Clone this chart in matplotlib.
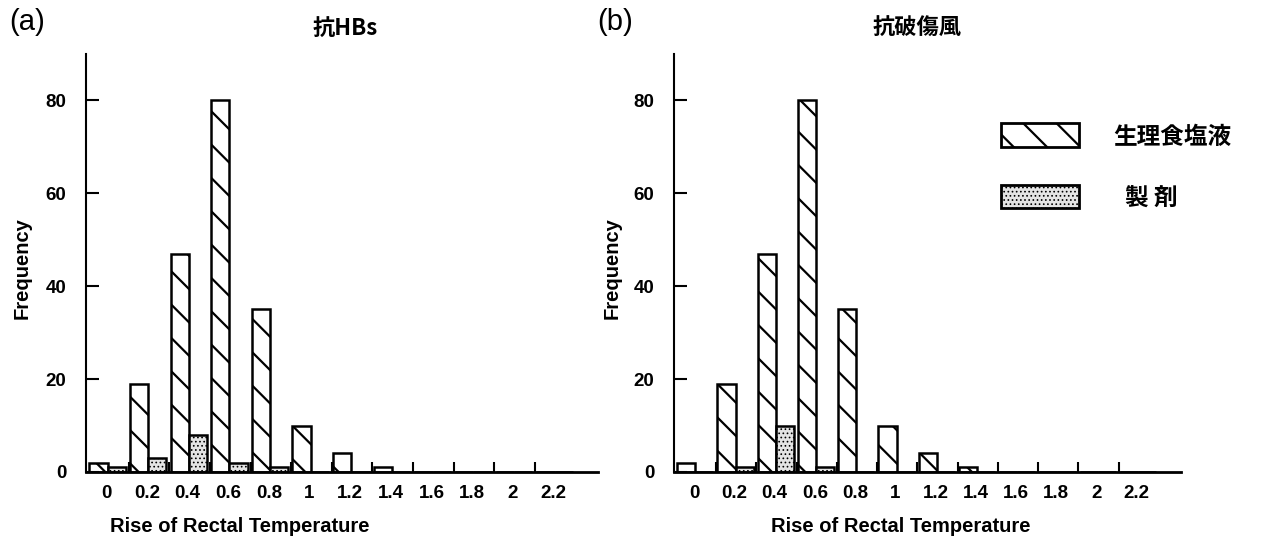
import matplotlib
matplotlib.use("Agg")
import matplotlib.pyplot as plt
from matplotlib.patches import Rectangle

plt.rcParams['font.family'] = ['Liberation Sans', 'Noto Sans CJK JP']
plt.rcParams['hatch.linewidth'] = 1.6

# data
bins = ['0', '0.2', '0.4', '0.6', '0.8', '1', '1.2', '1.4', '1.6', '1.8', '2', '2.2']
saline_a = [2, 19, 47, 80, 35, 10, 4, 1, 0, 0, 0, 0]
prep_a = [1, 3, 8, 2, 1, 0, 0, 0, 0, 0, 0, 0]
saline_b = [2, 19, 47, 80, 35, 10, 4, 1, 0, 0, 0, 0]
prep_b = [0, 1, 10, 1, 0, 0, 0, 0, 0, 0, 0, 0]
titles = ['抗HBs', '抗破傷風']
panels = ['(a)', '(b)']
legend_labels = ['生理食塩液', '製 剤']

W, H = 1262, 556
fig = plt.figure(figsize=(W / 100, H / 100), dpi=100)

cjk = ['Noto Sans CJK JP', 'DejaVu Sans']
axes_px = [(86, 598), (674, 1181)]
top_px, base_px = 54, 472
prep_face = '#e4e4e4'


def draw(ax, saline, prep):
    x = list(range(len(bins)))
    ax.bar([i - 0.42 for i in x], saline, width=0.45, align='edge',
           facecolor='white', edgecolor='black', linewidth=1.8, hatch='\\')
    with plt.rc_context({'hatch.linewidth': 0.7}):
        ax.bar([i + 0.03 for i in x], prep, width=0.45, align='edge',
               facecolor=prep_face, edgecolor='black', linewidth=1.8, hatch='....')
    ax.set_xlim(-0.5, 12.1)
    ax.set_ylim(0, 90)
    ax.set_yticks([0, 20, 40, 60, 80])
    ax.tick_params(axis='y', direction='in', length=9, width=1.5, pad=14,
                   labelsize=13.5)
    # boundary marks as major ticks, labels at bin centres as minor ticks
    ax.set_xticks([i + 0.55 for i in range(len(bins) - 1)])
    ax.set_xticklabels([])
    ax.tick_params(axis='x', which='major', direction='in', length=7, width=1.5)
    ax.set_xticks(x, minor=True)
    ax.set_xticklabels(bins, minor=True)
    ax.tick_params(axis='x', which='minor', length=0, pad=9, labelsize=13.5)
    for lab in ax.get_xticklabels(minor=True) + ax.get_yticklabels():
        lab.set_fontweight('bold')
    ax.spines['top'].set_visible(False)
    ax.spines['right'].set_visible(False)
    ax.spines['left'].set_linewidth(1.5)
    ax.spines['bottom'].set_linewidth(2)


for k, (saline, prep) in enumerate([(saline_a, prep_a), (saline_b, prep_b)]):
    l, r = axes_px[k]
    ax = fig.add_axes([l / W, 1 - base_px / H, (r - l) / W, (base_px - top_px) / H])
    draw(ax, saline, prep)

# panel letters, titles, axis labels
fig.text(9 / W, 1 - 22 / H, panels[0], fontsize=21, ha='left', va='center')
fig.text(597 / W, 1 - 22 / H, panels[1], fontsize=21, ha='left', va='center')
fig.text(345 / W, 1 - 28 / H, titles[0], fontsize=16, fontweight='bold',
         ha='center', va='center', family=cjk)
fig.text(917 / W, 1 - 28 / H, titles[1], fontsize=16, fontweight='bold',
         ha='center', va='center', family=cjk)
for cx in (240, 901):
    fig.text(cx / W, 1 - 527 / H, 'Rise of Rectal Temperature', fontsize=14.5,
             fontweight='bold', ha='center', va='center')
for cx in (22, 612):
    fig.text(cx / W, 1 - 268 / H, 'Frequency', fontsize=14.5, fontweight='bold',
             rotation=90, ha='center', va='center')

# legend drawn by hand
fig.add_artist(Rectangle((1001 / W, 1 - 147 / H), 78 / W, 24 / H, transform=fig.transFigure,
                         facecolor='white', edgecolor='black', linewidth=2, hatch='\\'))
with plt.rc_context({'hatch.linewidth': 0.7}):
    fig.add_artist(Rectangle((1001 / W, 1 - 208 / H), 78 / W, 23 / H, transform=fig.transFigure,
                             facecolor=prep_face, edgecolor='black', linewidth=2, hatch='....'))
fig.text(1113 / W, 1 - 137 / H, legend_labels[0], fontsize=17, fontweight='bold',
         ha='left', va='center', family=cjk)
fig.text(1125 / W, 1 - 199 / H, legend_labels[1], fontsize=17, fontweight='bold',
         ha='left', va='center', family=cjk)

fig.savefig('out.png', dpi=100)
